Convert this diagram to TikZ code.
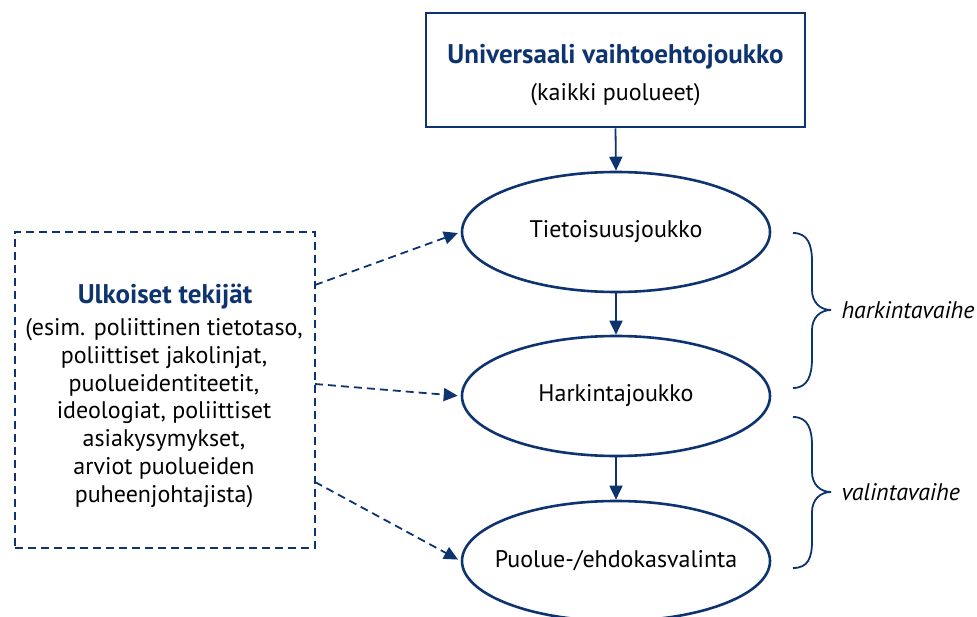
\documentclass[tikz,border=0pt]{standalone}
\usepackage{fontspec}
\setmainfont{PT Sans}
\usetikzlibrary{shapes.geometric,arrows.meta}
\definecolor{navy}{RGB}{14,52,112}
\tikzset{
  every node/.style={font=\fontsize{24}{27.7}\selectfont},
  ell/.style={ellipse,draw=navy,line width=2.6pt,minimum width=308pt,minimum height=120pt,inner sep=0pt},
  solidarrow/.style={draw=navy,line width=1.8pt,-{Triangle[width=13pt,length=14pt]}},
  dasharrow/.style={draw=navy,line width=1.8pt,dash pattern=on 8pt off 5pt,-{Triangle[width=13pt,length=14pt]},shorten >=3pt},
  bracepath/.style={draw=navy,line width=1.8pt},
  ttl/.style={text=navy,font=\fontsize{27}{30}\selectfont\bfseries},
  lbl/.style={anchor=west,font=\fontsize{24}{27.7}\selectfont\itshape},
}
\begin{document}
\begin{tikzpicture}[x=1pt,y=-1pt]
\useasboundingbox (0,0) rectangle (977,617);
\begin{scope}
\clip (0,0) rectangle (977,617);
% top box
\node[draw=navy,line width=2.6pt,minimum width=379pt,minimum height=114pt,inner sep=0pt] (top) at (615.5,70) {};
\node[ttl] (toptitle) at (615.5,57) {Universaali vaihtoehtojoukko};
\node (topsub) at (615.5,95) {(kaikki puolueet)};
% ellipses
\node[ell] (e1) at (616,232) {};
\node[ell] (e2) at (616,396) {};
\node[ell] (e3) at (616,561) {};
\node (t1) at (e1.center) {Tietoisuusjoukko};
\node (t2) at (e2.center) {Harkintajoukko};
\node (t3) at (e3.center) {Puolue-/ehdokasvalinta};
% external box
\node[draw=navy,line width=2.4pt,dash pattern=on 8pt off 5pt,minimum width=300pt,minimum height=316pt,inner sep=0pt] (ext) at (165,390) {};
\node[ttl] (exttitle) at (165,297) {Ulkoiset tekijät};
\node[align=center] (exttext) at (164,413) {(esim. poliittinen tietotaso,\\poliittiset jakolinjat,\\puolueidentiteetit,\\ideologiat, poliittiset\\asiakysymykset,\\arviot puolueiden\\puheenjohtajista)};
% solid arrows
\draw[solidarrow] (top.south) -- (e1.north);
\draw[solidarrow] (e1.south) -- (e2.north);
\draw[solidarrow] (e2.south) -- (e3.north);
% dashed arrows
\coordinate (s1) at (315,285);
\coordinate (s2) at (315,384);
\coordinate (s3) at (315,482);
\draw[dasharrow] (s1) -- (e1.west);
\draw[dasharrow] (s2) -- (e2.west);
\draw[dasharrow] (s3) -- (e3.west);
% braces
\draw[bracepath] (793,233) .. controls (808,233) and (812,245) .. (812,262) -- (812,290) .. controls (812,302) and (820,310) .. (831,310) .. controls (820,310) and (812,318) .. (812,330) -- (812,358) .. controls (812,375) and (808,388) .. (793,388);
\draw[bracepath] (793,417) .. controls (808,417) and (812,429) .. (812,446) -- (812,472) .. controls (812,484) and (820,492) .. (831,492) .. controls (820,492) and (812,500) .. (812,512) -- (812,541) .. controls (812,558) and (808,568) .. (793,568);
\node[lbl] (l1) at (838,310) {harkintavaihe};
\node[lbl] (l2) at (838,492) {valintavaihe};
\end{scope}
\end{tikzpicture}
\end{document}
